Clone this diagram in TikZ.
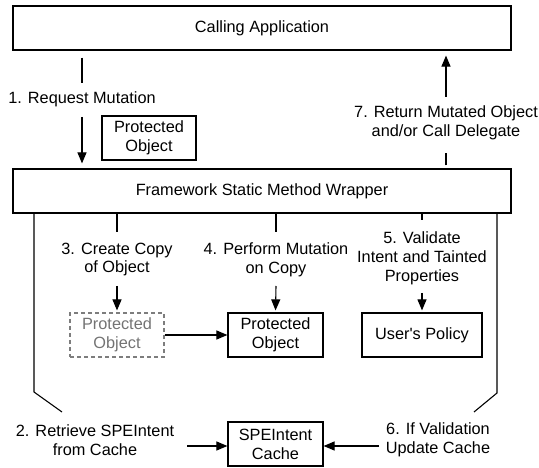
\documentclass[tikz,border=0pt]{standalone}
\usepackage{fontspec}
\setmainfont{Liberation Sans}
\usetikzlibrary{arrows.meta}
\definecolor{dtext}{RGB}{115,115,115}
\definecolor{dline}{RGB}{125,125,125}
\begin{document}
\begin{tikzpicture}[x=1pt,y=-1pt,
  every node/.style={font=\fontsize{16.3}{18.8}\selectfont},
  box/.style={draw, line width=1.2pt, align=center, inner sep=0pt},
  dbox/.style={draw=dline, line width=1.1pt, dash pattern=on 4pt off 3pt, text=dtext, align=center, inner sep=0pt},
  lbl/.style={align=center, inner sep=0pt},
  ln/.style={line width=1.1pt},
  arr/.style={line width=1.1pt, -{Triangle[length=11pt,width=9pt]}},
]
\useasboundingbox (0,0) rectangle (539,468);

% boxes
\node[box, minimum width=498pt, minimum height=44pt] (calling) at (262,28) {Calling Application};
\node[box, minimum width=498pt, minimum height=44pt] (wrapper) at (262,191) {Framework Static Method Wrapper};
\node[box, minimum width=94pt, minimum height=44pt] (pobj) at (149,138) {Protected\\Object};
\node[dbox, minimum width=94pt, minimum height=44pt] (copy) at (117,335) {Protected\\Object};
\node[box, minimum width=95pt, minimum height=44pt] (prot) at (275.5,335) {Protected\\Object};
\node[box, minimum width=120pt, minimum height=44pt] (policy) at (422,335) {User\textquotesingle s Policy};
\node[box, minimum width=95pt, minimum height=44pt] (cache) at (275.5,444) {SPEIntent\\Cache};

% labels
\node[lbl] (l1) at (82,99) {1. Request Mutation};
\node[lbl] (l7) at (446,123) {7. Return Mutated Object\\and/or Call Delegate};
\node[lbl] (l3) at (117,259.5) {3. Create Copy\\of Object};
\node[lbl] (l4) at (276,259.5) {4. Perform Mutation\\on Copy};
\node[lbl] (l5) at (422,258) {5. Validate\\Intent and Tainted\\Properties};
\node[lbl] (l2) at (95,440) {2. Retrieve SPEIntent\\from Cache};
\node[lbl] (l6) at (438,440) {6. If Validation\\Update Cache};

% free ends
\coordinate (a1t) at (82,83);
\coordinate (a1b) at (82,117);
\coordinate (a7b) at (446,153);
\coordinate (a7t) at (446,97);
\coordinate (a3e) at (117,232);
\coordinate (a3s) at (117,286);
\coordinate (a4e) at (276,232);
\coordinate (a4s) at (276,286);
\coordinate (a5e) at (422,220);
\coordinate (a5s) at (422,293);
\coordinate (bl1) at (34,392);
\coordinate (bl2) at (62,412);
\coordinate (br1) at (497,393);
\coordinate (br2) at (474,412);
\coordinate (a2s) at (187,446);
\coordinate (a6s) at (379,446);

% step 1
\draw[ln, shorten <=7pt] (calling.south -| l1.center) -- (a1t);
\draw[arr, shorten >=5pt] (a1b) -- (wrapper.north -| l1.center);
% step 7
\draw[ln, shorten <=3pt] (wrapper.north -| l7.center) -- (a7b);
\draw[arr, shorten >=5pt] (a7t) -- (calling.south -| l7.center);
% steps 3,4,5
\draw[ln] (wrapper.south -| l3.center) -- (a3e);
\draw[arr, shorten >=2pt] (a3s) -- (copy.north);
\draw[ln] (wrapper.south -| l4.center) -- (a4e);
\draw[arr, shorten >=2pt] (a4s) -- (prot.north);
\draw[ln] (wrapper.south -| l5.center) -- (a5e);
\draw[arr, shorten >=2pt] (a5s) -- (policy.north);
\draw[arr] (copy.east) -- (prot.west);
% brackets
\draw[ln, line join=miter] (wrapper.south -| bl1) -- (bl1) -- (bl2);
\draw[ln, line join=miter] (wrapper.south -| br1) -- (br1) -- (br2);
% steps 2,6
\draw[arr] (a2s) -- (cache.west |- a2s);
\draw[arr] (a6s) -- (cache.east |- a6s);
\end{tikzpicture}
\end{document}
